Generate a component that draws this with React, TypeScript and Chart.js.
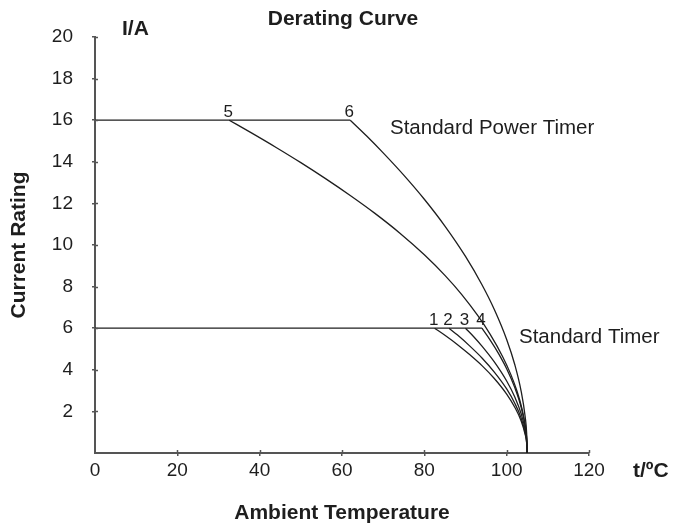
import React, { useEffect, useRef } from "react";
import { Chart, registerables } from "chart.js";

Chart.register(...registerables);

// ---- data ----
const xTickValues = [0, 20, 40, 60, 80, 100, 120];
const yTickValues = [0, 2, 4, 6, 8, 10, 12, 14, 16, 18, 20];

const line16X = [0, 62];
const line16Y = [16, 16];
const line6X = [0, 94];
const line6Y = [6, 6];

// Standard Power Timer curves
const curve6X = [62, 66, 70, 75, 80, 85, 90, 94, 97, 100, 102, 103.5, 104.5, 104.85, 105];
const curve6Y = [16, 15.24, 14.43, 13.36, 12.2, 10.91, 9.45, 8.09, 6.9, 5.46, 4.23, 2.99, 1.73, 0.95, 0];
const curve5X = [32.6, 38, 44, 50, 56, 62, 68, 74, 80, 85, 89, 93, 96, 99, 101, 102.5, 103.7, 104.5, 104.85, 105];
const curve5Y = [16, 15.39, 14.69, 13.96, 13.19, 12.38, 11.52, 10.58, 9.53, 8.54, 7.64, 6.6, 5.7, 4.64, 3.78, 2.98, 2.15, 1.33, 0.73, 0];

// Standard Timer curves
const curve1X = [82.5, 85, 88, 91, 94, 97, 100, 102, 103.5, 104.5, 104.85, 105];
const curve1Y = [6, 5.66, 5.22, 4.73, 4.2, 3.58, 2.83, 2.19, 1.55, 0.89, 0.49, 0];
const curve2X = [86, 88, 91, 94, 97, 100, 102, 103.5, 104.5, 104.85, 105];
const curve2Y = [6, 5.68, 5.15, 4.57, 3.89, 3.08, 2.38, 1.69, 0.97, 0.53, 0];
const curve3X = [90, 92, 94, 97, 100, 102, 103.5, 104.5, 104.85, 105];
const curve3Y = [6, 5.59, 5.14, 4.38, 3.46, 2.68, 1.9, 1.1, 0.6, 0];
const curve4X = [94, 96, 98, 100, 102, 103.5, 104.5, 104.85, 105];
const curve4Y = [6, 5.43, 4.79, 4.05, 3.13, 2.21, 1.28, 0.7, 0];

const curveLabels = ["1", "2", "3", "4", "5", "6"];

const FONT = "'Liberation Sans', Arial, Helvetica, sans-serif";
const INK = "#1e1e1e";
const AXIS = "#555555";

const pts = (xs: number[], ys: number[]) => xs.map((x, i) => ({ x, y: ys[i] }));

const mkSet = (xs: number[], ys: number[], smooth: boolean) => ({
  data: pts(xs, ys),
  borderColor: INK,
  borderWidth: 1.3,
  pointRadius: 0,
  fill: false,
  cubicInterpolationMode: smooth ? ("monotone" as const) : ("default" as const),
  tension: 0,
});

const textPlugin = {
  id: "annotText",
  afterDraw(chart: any) {
    const ctx = chart.ctx as CanvasRenderingContext2D;
    const xs = chart.scales.x;
    const ys = chart.scales.y;
    const area = chart.chartArea;
    ctx.save();
    // inward halves of the crossing tick marks
    ctx.strokeStyle = AXIS;
    ctx.lineWidth = 1.5;
    yTickValues.forEach((v) => {
      if (v === 0) return;
      const py = Math.round(ys.getPixelForValue(v)) + 0.5;
      ctx.beginPath();
      ctx.moveTo(area.left, py);
      ctx.lineTo(area.left + 3, py);
      ctx.stroke();
    });
    xTickValues.forEach((v) => {
      if (v === 0) return;
      const px = Math.round(xs.getPixelForValue(v)) + 0.5;
      ctx.beginPath();
      ctx.moveTo(px, area.bottom);
      ctx.lineTo(px, area.bottom - 3);
      ctx.stroke();
    });

    ctx.fillStyle = INK;
    // curve numbers
    ctx.font = `17px ${FONT}`;
    ctx.textAlign = "center";
    ctx.textBaseline = "alphabetic";
    const starts: [number, number][] = [
      [curve1X[0], curve1Y[0]],
      [curve2X[0], curve2Y[0]],
      [curve3X[0], curve3Y[0]],
      [curve4X[0], curve4Y[0]],
      [curve5X[0], curve5Y[0]],
      [curve6X[0], curve6Y[0]],
    ];
    starts.forEach(([x, y], i) => {
      const px = xs.getPixelForValue(x);
      const py = ys.getPixelForValue(y);
      ctx.fillText(curveLabels[i], px - 1, py - 3);
    });

    // series names
    ctx.font = `20.5px ${FONT}`;
    ctx.textAlign = "left";
    ctx.textBaseline = "middle";
    ctx.fillText("Standard Power Timer", 390, 128);
    ctx.fillText("Standard Timer", 519, 337);

    // titles
    ctx.font = `bold 21px ${FONT}`;
    ctx.textAlign = "center";
    ctx.fillText("Derating Curve", 343, 19);
    ctx.fillText("Ambient Temperature", 342, 513);
    ctx.textAlign = "left";
    ctx.fillText("I/A", 122, 29);
    ctx.fillText("t/ºC", 633, 471);
    ctx.translate(19, 245);
    ctx.rotate(-Math.PI / 2);
    ctx.textAlign = "center";
    ctx.fillText("Current Rating", 0, 0);
    ctx.restore();
  },
};

export default function App() {
  const ref = useRef<HTMLCanvasElement>(null);
  useEffect(() => {
    const tickColor = (c: any) => (c.tick && c.tick.value === 0 ? "rgba(0,0,0,0)" : AXIS);
    const chart = new Chart(ref.current as HTMLCanvasElement, {
      type: "line",
      data: {
        datasets: [
          mkSet(line16X, line16Y, false),
          mkSet(line6X, line6Y, false),
          mkSet(curve6X, curve6Y, true),
          mkSet(curve5X, curve5Y, true),
          mkSet(curve1X, curve1Y, true),
          mkSet(curve2X, curve2Y, true),
          mkSet(curve3X, curve3Y, true),
          mkSet(curve4X, curve4Y, true),
        ],
      },
      options: {
        animation: false,
        responsive: false,
        devicePixelRatio: 1,
        layout: { padding: { left: 0, top: 37, right: 85, bottom: 0 } },
        plugins: { legend: { display: false }, tooltip: { enabled: false }, title: { display: false } },
        scales: {
          x: {
            type: "linear",
            min: 0,
            max: 120,
            afterBuildTicks: (s: any) => {
              s.ticks = xTickValues.map((v) => ({ value: v }));
            },
            afterFit: (s: any) => {
              s.height = 71;
            },
            ticks: { color: INK, font: { family: FONT, size: 19 }, padding: 3, maxRotation: 0, autoSkip: false },
            grid: { drawOnChartArea: false, drawTicks: true, tickLength: 3, color: tickColor, lineWidth: 1.5 },
            border: { display: true, color: AXIS, width: 2 },
          },
          y: {
            type: "linear",
            min: 0,
            max: 20,
            afterBuildTicks: (s: any) => {
              s.ticks = yTickValues.map((v) => ({ value: v }));
            },
            afterFit: (s: any) => {
              s.width = 95;
            },
            ticks: {
              color: INK,
              font: { family: FONT, size: 19 },
              padding: 19,
              autoSkip: false,
              callback: (v: any) => (Number(v) === 0 ? "" : String(v)),
            },
            grid: { drawOnChartArea: false, drawTicks: true, tickLength: 3, color: tickColor, lineWidth: 1.5 },
            border: { display: true, color: AXIS, width: 2 },
          },
        },
      } as any,
      plugins: [textPlugin],
    });
    return () => chart.destroy();
  }, []);
  return (
    <div style={{ position: "fixed", left: 0, top: 0, width: 674, height: 524, background: "#fff" }}>
      <canvas ref={ref} width={674} height={524} style={{ width: 674, height: 524, display: "block" }} />
    </div>
  );
}
